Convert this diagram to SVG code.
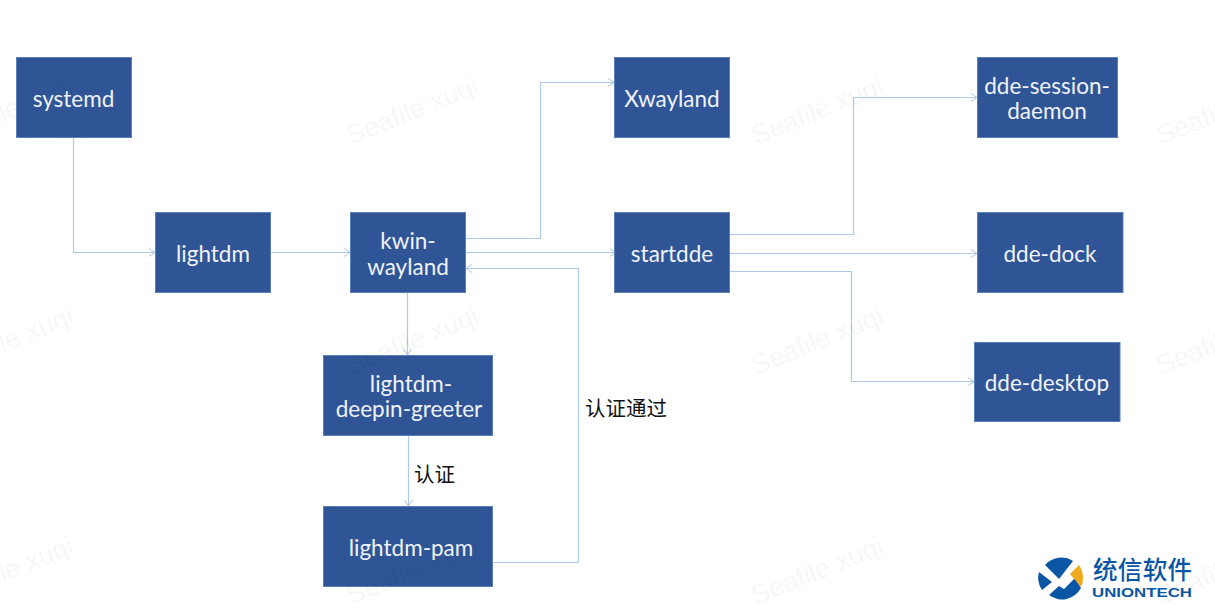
<svg xmlns="http://www.w3.org/2000/svg" width="1215" height="616" viewBox="0 0 1215 616">
<defs>
<marker id="arr" markerWidth="8" markerHeight="10" refX="7" refY="5" orient="auto" markerUnits="userSpaceOnUse"><path d="M1 1 L7 5 L1 9" fill="none" stroke="#a9c5e6" stroke-width="1"/></marker>
<g id="wm"><text class="wm" transform="rotate(-22)">Seafile xuqi</text></g>
</defs>
<style>
.n{fill:#2f5597;stroke:#5b80b8;stroke-width:1}
.t{font-family:"Lato","Noto Sans",sans-serif;font-size:22.500px;fill:#f0f3f9;text-anchor:middle}
.c{fill:none;stroke:#afc9e8;stroke-width:1.200;marker-end:url(#arr)}
.l{font-family:"Noto Sans CJK SC",sans-serif;font-size:20.500px;fill:#111}
.wm{font-family:"Liberation Sans",sans-serif;font-size:27px;fill:#000;fill-opacity:.05}
</style>
<rect width="1215" height="616" fill="#fff"/>
<g id="connectors">
<path class="c" d="M73.500 137V252.500H155"/>
<path class="c" d="M271 252.500H350"/>
<path class="c" d="M466 238.500H540.500V82.500H614"/>
<path class="c" d="M466 252.500H616"/>
<path class="c" d="M407.500 293V355"/>
<path class="c" d="M408.500 435V506"/>
<path class="c" d="M493 562.500H578.500V268.500H466"/>
<path class="c" d="M730 234.500H853.500V97.500H977"/>
<path class="c" d="M730 253.500H977"/>
<path class="c" d="M730 271.500H851.500V381.500H974"/>
</g>
<g id="systemd"><rect class="n" x="16.500" y="57.500" width="115" height="80"/><text class="t" x="73.500" y="107">systemd</text></g>
<g id="lightdm"><rect class="n" x="155.500" y="212.500" width="115" height="80"/><text class="t" x="213" y="262">lightdm</text></g>
<g id="kwin-wayland"><rect class="n" x="350.500" y="212.500" width="115" height="80"/><text class="t" x="408" y="249">kwin-</text><text class="t" x="408" y="275">wayland</text></g>
<g id="xwayland"><rect class="n" x="614.500" y="57.500" width="115" height="80"/><text class="t" x="672" y="107">Xwayland</text></g>
<g id="startdde"><rect class="n" x="614.500" y="212.500" width="115" height="80"/><text class="t" x="672" y="262">startdde</text></g>
<g id="dde-session-daemon"><rect class="n" x="977.500" y="57.500" width="140" height="80"/><text class="t" x="1047" y="94">dde-session-</text><text class="t" x="1047" y="119">daemon</text></g>
<g id="dde-dock"><rect class="n" x="977.500" y="212.500" width="145.500" height="80"/><text class="t" x="1050" y="262">dde-dock</text></g>
<g id="dde-desktop"><rect class="n" x="974.500" y="342.500" width="145.500" height="79"/><text class="t" x="1047" y="391">dde-desktop</text></g>
<g id="lightdm-deepin-greeter"><rect class="n" x="323.500" y="355.500" width="169" height="80"/><text class="t" x="411" y="392">lightdm-</text><text class="t" x="409" y="417">deepin-greeter</text></g>
<g id="lightdm-pam"><rect class="n" x="323.500" y="506.500" width="169" height="80"/><text class="t" x="411" y="556">lightdm-pam</text></g>
<text class="l" x="414" y="482">认证</text>
<text class="l" x="585" y="416">认证通过</text>
<g id="watermark">
<use href="#wm" x="-54" y="145"/><use href="#wm" x="351" y="145"/><use href="#wm" x="756" y="145"/><use href="#wm" x="1161" y="145"/>
<use href="#wm" x="-54" y="375"/><use href="#wm" x="351" y="375"/><use href="#wm" x="756" y="375"/><use href="#wm" x="1161" y="375"/>
<use href="#wm" x="-54" y="605"/><use href="#wm" x="351" y="605"/><use href="#wm" x="756" y="605"/><use href="#wm" x="1161" y="605"/>
</g>
<g id="logo" fill="#0b56a4">
<path d="M1045 565L1059 579L1073 561A21.500 21.500 0 0 0 1045 565Z"/>
<path d="M1039 572L1052 582L1042 590A21.500 21.500 0 0 1 1039 572Z"/>
<path d="M1049 595L1059 586L1064 589L1075 578L1081 588A21.500 21.500 0 0 1 1049 595Z"/>
<path d="M1079 565L1070 574L1081 587A21.500 21.500 0 0 0 1079 565Z" fill="#efaa1f"/>
<text x="1093" y="579" font-family="'Noto Sans CJK SC',sans-serif" font-size="24.500" font-weight="500" textLength="99">统信软件</text>
<text x="1092" y="597" font-family="'Liberation Sans',sans-serif" font-size="12.500" font-weight="700" textLength="100" lengthAdjust="spacingAndGlyphs">UNIONTECH</text>
</g>
</svg>
